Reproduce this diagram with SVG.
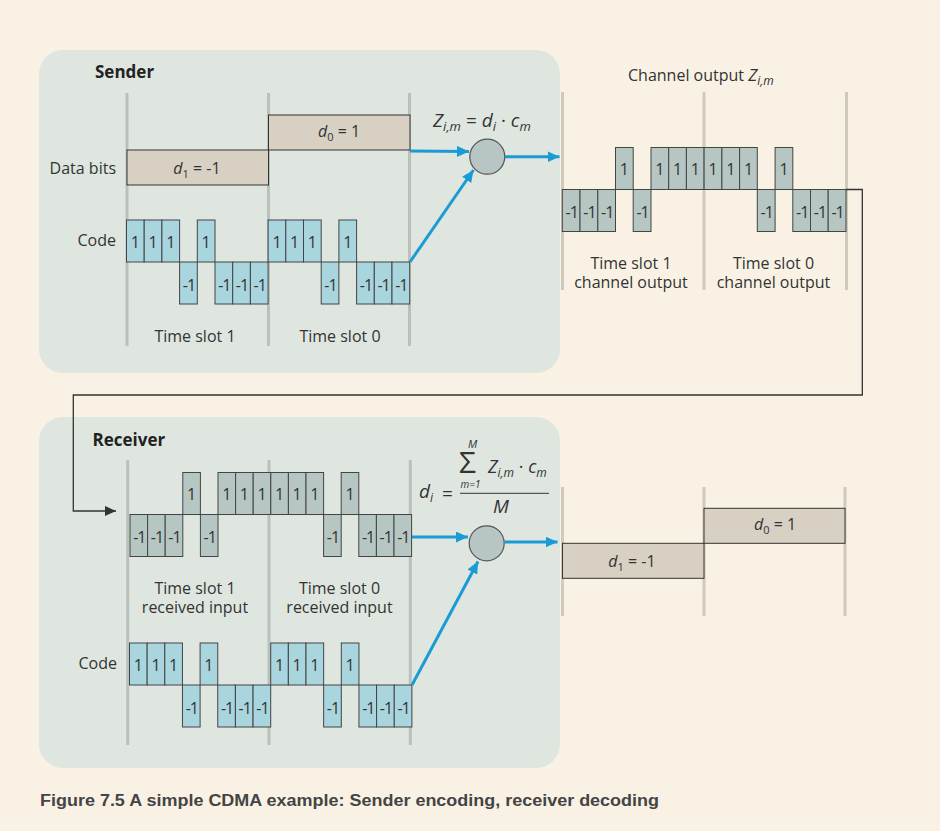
<svg xmlns="http://www.w3.org/2000/svg" width="940" height="831" viewBox="0 0 940 831">
<style>
.t{font-family:"Open Sans","Liberation Sans",sans-serif;fill:#333;font-size:16px}
.c{font-family:"Open Sans","Liberation Sans",sans-serif;fill:#333;font-size:16px;text-anchor:middle}
.n{letter-spacing:-1px}
.it{font-style:italic}
.sub{font-size:12px;font-style:italic}
.ttl{font-family:"Open Sans","Liberation Sans",sans-serif;fill:#222;font-size:17px;font-weight:bold}
.code rect{fill:#a9d5de;stroke:#444;stroke-width:1}
.chan rect{fill:#b6c6c3;stroke:#444;stroke-width:1}
.box{fill:#d8d0c3;stroke:#333;stroke-width:1}
.sl{stroke:#bac1bb;stroke-width:3}
.sl2{stroke:#d0cabc;stroke-width:3}
.blue{stroke:#1b9bd6;stroke-width:3;fill:none;marker-end:url(#ab)}
.circ{fill:#b7c5c4;stroke:#555;stroke-width:1.2}
</style>
<defs>
<marker id="ab" markerUnits="userSpaceOnUse" markerWidth="13" markerHeight="11" refX="12" refY="5.5" orient="auto"><path d="M0,0 L12,5.5 L0,11 z" fill="#1b9bd6"/></marker>
<marker id="ak" markerUnits="userSpaceOnUse" markerWidth="12" markerHeight="10" refX="11" refY="5" orient="auto"><path d="M0,0 L11,5 L0,10 z" fill="#333"/></marker>
</defs>
<rect width="940" height="831" fill="#f9f2e4"/>

<g id="sender">
<rect x="39" y="50" width="521" height="323" rx="24" fill="#dfe6e0"/>
<text class="ttl" x="95" y="78">Sender</text>
<line class="sl" x1="127" y1="93" x2="127" y2="346"/>
<line class="sl" x1="268.5" y1="93" x2="268.5" y2="346"/>
<line class="sl" x1="409.5" y1="93" x2="409.5" y2="346"/>
<text class="t" x="116" y="174" text-anchor="end">Data bits</text>
<rect class="box" x="127" y="150" width="141.5" height="35"/>
<rect class="box" x="268.5" y="115" width="141.5" height="35"/>
<text class="c" x="197" y="174"><tspan class="it">d</tspan><tspan style="font-size:11px" dy="4">1</tspan><tspan dy="-4"> = -1</tspan></text>
<text class="c" x="339" y="137"><tspan class="it">d</tspan><tspan style="font-size:11px" dy="4">0</tspan><tspan dy="-4"> = 1</tspan></text>
<text class="t" x="116" y="246" text-anchor="end">Code</text>
<g class="code">
<rect x="126.5" y="220" width="17.7" height="42"/><rect x="144.2" y="220" width="17.7" height="42"/><rect x="161.9" y="220" width="17.7" height="42"/><rect x="179.6" y="262" width="17.7" height="42"/><rect x="197.3" y="220" width="17.7" height="42"/><rect x="215" y="262" width="17.7" height="42"/><rect x="232.7" y="262" width="17.7" height="42"/><rect x="250.4" y="262" width="17.7" height="42"/>
<rect x="268.1" y="220" width="17.7" height="42"/><rect x="285.8" y="220" width="17.7" height="42"/><rect x="303.5" y="220" width="17.7" height="42"/><rect x="321.2" y="262" width="17.7" height="42"/><rect x="338.9" y="220" width="17.7" height="42"/><rect x="356.6" y="262" width="17.7" height="42"/><rect x="374.3" y="262" width="17.7" height="42"/><rect x="392" y="262" width="17.7" height="42"/>
</g>
<g>
<text class="c" x="135.4" y="247.5">1</text><text class="c" x="153.1" y="247.5">1</text><text class="c" x="170.8" y="247.5">1</text><text class="c n" x="188.9" y="290.5">-1</text><text class="c" x="206.2" y="247.5">1</text><text class="c n" x="224.3" y="290.5">-1</text><text class="c n" x="242" y="290.5">-1</text><text class="c n" x="259.7" y="290.5">-1</text>
<text class="c" x="277" y="247.5">1</text><text class="c" x="294.7" y="247.5">1</text><text class="c" x="312.4" y="247.5">1</text><text class="c n" x="330.5" y="290.5">-1</text><text class="c" x="347.8" y="247.5">1</text><text class="c n" x="365.9" y="290.5">-1</text><text class="c n" x="383.6" y="290.5">-1</text><text class="c n" x="401.3" y="290.5">-1</text>
</g>
<text class="c" x="195" y="341.5">Time slot 1</text>
<text class="c" x="340" y="341.5">Time slot 0</text>
<text class="t" x="433" y="127" style="font-size:19px"><tspan class="it">Z</tspan><tspan class="sub" style="font-size:13px" dy="4">i,m</tspan><tspan dy="-4"> = </tspan><tspan class="it">d</tspan><tspan class="sub" style="font-size:13px" dy="4">i</tspan><tspan dy="-4"> · </tspan><tspan class="it">c</tspan><tspan class="sub" style="font-size:13px" dy="4">m</tspan></text>
</g>

<g id="encoder">
<circle class="circ" cx="487.3" cy="156.7" r="17.5"/>
</g>

<g id="channel">
<text class="t" x="628" y="81">Channel output <tspan class="it" style="font-size:17px">Z</tspan><tspan class="sub" dy="4">i,m</tspan></text>
<line class="sl2" x1="562.5" y1="92" x2="562.5" y2="290"/>
<line class="sl2" x1="704" y1="92" x2="704" y2="290"/>
<line class="sl2" x1="846.5" y1="92" x2="846.5" y2="290"/>
<g class="chan">
<rect x="562.3" y="189.5" width="17.7" height="42"/><rect x="580" y="189.5" width="17.8" height="42"/><rect x="597.8" y="189.5" width="17.7" height="42"/><rect x="615.5" y="147.5" width="17.7" height="42"/><rect x="633.2" y="189.5" width="17.8" height="42"/><rect x="651" y="147.5" width="17.7" height="42"/><rect x="668.7" y="147.5" width="17.7" height="42"/><rect x="686.4" y="147.5" width="17.7" height="42"/>
<rect x="704.1" y="147.5" width="17.8" height="42"/><rect x="721.9" y="147.5" width="17.7" height="42"/><rect x="739.6" y="147.5" width="17.7" height="42"/><rect x="757.3" y="189.5" width="17.8" height="42"/><rect x="775.1" y="147.5" width="17.7" height="42"/><rect x="792.8" y="189.5" width="17.7" height="42"/><rect x="810.5" y="189.5" width="17.7" height="42"/><rect x="828.2" y="189.5" width="17.8" height="42"/>
</g>
<g>
<text class="c n" x="571.7" y="218">-1</text><text class="c n" x="589.4" y="218">-1</text><text class="c n" x="607.2" y="218">-1</text><text class="c" x="624.4" y="175">1</text><text class="c n" x="642.6" y="218">-1</text><text class="c" x="659.9" y="175">1</text><text class="c" x="677.6" y="175">1</text><text class="c" x="695.3" y="175">1</text>
<text class="c" x="713" y="175">1</text><text class="c" x="730.8" y="175">1</text><text class="c" x="748.5" y="175">1</text><text class="c n" x="766.7" y="218">-1</text><text class="c" x="784" y="175">1</text><text class="c n" x="802.2" y="218">-1</text><text class="c n" x="819.9" y="218">-1</text><text class="c n" x="837.6" y="218">-1</text>
</g>
<text class="c" x="631" y="268.5">Time slot 1</text>
<text class="c" x="631" y="288">channel output</text>
<text class="c" x="773.5" y="268.5">Time slot 0</text>
<text class="c" x="773.5" y="288">channel output</text>
</g>

<g id="receiver">
<rect x="39" y="417" width="521" height="351" rx="24" fill="#dfe6e0"/>
<text class="ttl" x="92.5" y="446">Receiver</text>
<line class="sl" x1="127.7" y1="460" x2="127.7" y2="745"/>
<line class="sl" x1="269" y1="460" x2="269" y2="745"/>
<line class="sl" x1="410.3" y1="460" x2="410.3" y2="745"/>
<g class="chan">
<rect x="130" y="514.5" width="17.6" height="42"/><rect x="147.6" y="514.5" width="17.6" height="42"/><rect x="165.2" y="514.5" width="17.6" height="42"/><rect x="182.8" y="472.5" width="17.6" height="42"/><rect x="200.4" y="514.5" width="17.6" height="42"/><rect x="218" y="472.5" width="17.6" height="42"/><rect x="235.6" y="472.5" width="17.6" height="42"/><rect x="253.2" y="472.5" width="17.6" height="42"/>
<rect x="270.8" y="472.5" width="17.6" height="42"/><rect x="288.4" y="472.5" width="17.6" height="42"/><rect x="306" y="472.5" width="17.6" height="42"/><rect x="323.6" y="514.5" width="17.6" height="42"/><rect x="341.2" y="472.5" width="17.6" height="42"/><rect x="358.8" y="514.5" width="17.6" height="42"/><rect x="376.4" y="514.5" width="17.6" height="42"/><rect x="394" y="514.5" width="17.6" height="42"/>
</g>
<g>
<text class="c n" x="139.3" y="543">-1</text><text class="c n" x="156.9" y="543">-1</text><text class="c n" x="174.5" y="543">-1</text><text class="c" x="191.6" y="500">1</text><text class="c n" x="209.7" y="543">-1</text><text class="c" x="226.8" y="500">1</text><text class="c" x="244.4" y="500">1</text><text class="c" x="262" y="500">1</text>
<text class="c" x="279.6" y="500">1</text><text class="c" x="297.2" y="500">1</text><text class="c" x="314.8" y="500">1</text><text class="c n" x="332.9" y="543">-1</text><text class="c" x="350" y="500">1</text><text class="c n" x="368.1" y="543">-1</text><text class="c n" x="385.7" y="543">-1</text><text class="c n" x="403.3" y="543">-1</text>
</g>
<text class="c" x="195" y="593.5">Time slot 1</text>
<text class="c" x="195" y="613">received input</text>
<text class="c" x="339.5" y="593.5">Time slot 0</text>
<text class="c" x="339.5" y="613">received input</text>
<text class="t" x="117" y="669" text-anchor="end">Code</text>
<g class="code">
<rect x="129.5" y="643" width="17.65" height="42"/><rect x="147.15" y="643" width="17.65" height="42"/><rect x="164.8" y="643" width="17.65" height="42"/><rect x="182.45" y="685" width="17.65" height="42"/><rect x="200.1" y="643" width="17.65" height="42"/><rect x="217.75" y="685" width="17.65" height="42"/><rect x="235.4" y="685" width="17.65" height="42"/><rect x="253.05" y="685" width="17.65" height="42"/>
<rect x="270.7" y="643" width="17.65" height="42"/><rect x="288.35" y="643" width="17.65" height="42"/><rect x="306" y="643" width="17.65" height="42"/><rect x="323.65" y="685" width="17.65" height="42"/><rect x="341.3" y="643" width="17.65" height="42"/><rect x="358.95" y="685" width="17.65" height="42"/><rect x="376.6" y="685" width="17.65" height="42"/><rect x="394.25" y="685" width="17.65" height="42"/>
</g>
<g>
<text class="c" x="138.3" y="670.5">1</text><text class="c" x="156" y="670.5">1</text><text class="c" x="173.6" y="670.5">1</text><text class="c n" x="191.8" y="713.5">-1</text><text class="c" x="208.9" y="670.5">1</text><text class="c n" x="227.1" y="713.5">-1</text><text class="c n" x="244.7" y="713.5">-1</text><text class="c n" x="262.4" y="713.5">-1</text>
<text class="c" x="279.5" y="670.5">1</text><text class="c" x="297.2" y="670.5">1</text><text class="c" x="314.8" y="670.5">1</text><text class="c n" x="333" y="713.5">-1</text><text class="c" x="350.1" y="670.5">1</text><text class="c n" x="368.3" y="713.5">-1</text><text class="c n" x="385.9" y="713.5">-1</text><text class="c n" x="403.6" y="713.5">-1</text>
</g>
<text class="t" x="419" y="498" style="font-size:19px"><tspan class="it">d</tspan><tspan class="sub" dy="4">i</tspan></text>
<text class="c" x="447.5" y="499.5" style="font-size:19px">=</text>
<text class="c" x="467.5" y="473" style="font-size:30px">Σ</text>
<text class="c it" x="472.5" y="447.5" style="font-size:11px">M</text>
<text class="c it" x="470.5" y="488" style="font-size:10px">m=1</text>
<text class="t" x="488" y="473" style="font-size:18px"><tspan class="it">Z</tspan><tspan class="sub" dy="4">i,m</tspan><tspan dy="-4"> · </tspan><tspan class="it">c</tspan><tspan class="sub" dy="4">m</tspan></text>
<line x1="460" y1="493.3" x2="549" y2="493.3" stroke="#333" stroke-width="1"/>
<text class="c it" x="501" y="512.5" style="font-size:19px">M</text>
</g>

<g id="decoder">
<circle class="circ" cx="486.7" cy="543.3" r="17.5"/>
</g>

<g id="output">
<line class="sl2" x1="562.5" y1="487" x2="562.5" y2="616"/>
<line class="sl2" x1="704" y1="487" x2="704" y2="616"/>
<line class="sl2" x1="845" y1="487" x2="845" y2="616"/>
<rect class="box" x="562.5" y="543.3" width="141.5" height="35"/>
<rect class="box" x="704" y="508.3" width="141" height="35"/>
<text class="c" x="632" y="567"><tspan class="it">d</tspan><tspan style="font-size:11px" dy="4">1</tspan><tspan dy="-4"> = -1</tspan></text>
<text class="c" x="775" y="530"><tspan class="it">d</tspan><tspan style="font-size:11px" dy="4">0</tspan><tspan dy="-4"> = 1</tspan></text>
</g>

<g id="connectors">
<line class="blue" x1="410" y1="151" x2="469" y2="151.5"/>
<line class="blue" x1="505" y1="156.7" x2="559.5" y2="156.7"/>
<line class="blue" x1="410" y1="262" x2="473.5" y2="170"/>
<polyline points="846,189.5 862.3,189.5 862.3,395 73.3,395 73.3,511 116,511" fill="none" stroke="#333" stroke-width="1.3" marker-end="url(#ak)"/>
<line class="blue" x1="412" y1="537" x2="468" y2="537"/>
<line class="blue" x1="504.5" y1="542" x2="557.5" y2="542"/>
<line class="blue" x1="412" y1="685" x2="478" y2="561.5"/>
</g>

<text x="40" y="805.5" font-family="'Liberation Sans',Arial,sans-serif" font-weight="bold" font-size="16" fill="#444" textLength="619" lengthAdjust="spacingAndGlyphs">Figure 7.5 A simple CDMA example: Sender encoding, receiver decoding</text>
</svg>
